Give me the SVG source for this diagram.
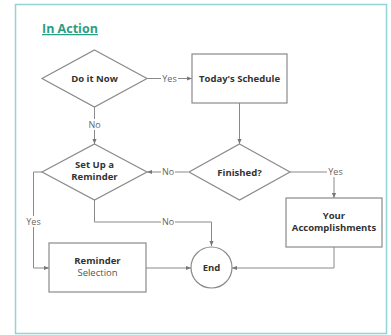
<svg xmlns="http://www.w3.org/2000/svg" width="391" height="335" viewBox="0 0 391 335">
<defs>
<marker id="ah" viewBox="0 0 6 6" refX="6" refY="3" markerWidth="5" markerHeight="5" orient="auto" markerUnits="userSpaceOnUse">
<path d="M0,0.5 L6,3 L0,5.5 z" fill="#777"/>
</marker>
<style>
.shape{fill:#fff;stroke:#8a8a8a;stroke-width:1.2}
.edge{fill:none;stroke:#8a8a8a;stroke-width:1}
.t{font-family:"Open Sans","Liberation Sans",sans-serif;font-size:9.5px;font-weight:bold;fill:#333;text-anchor:middle}
.n{font-family:"Open Sans","Liberation Sans",sans-serif;font-size:9.5px;fill:#555;text-anchor:middle}
.lbl{font-family:"Open Sans","Liberation Sans",sans-serif;font-size:9px;fill:#666;text-anchor:middle}
.lbg{fill:#fff}
</style>
</defs>
<rect x="0" y="0" width="391" height="335" fill="#fff"/>
<rect x="15.5" y="4.5" width="371" height="329" fill="#fff" stroke="#93d4d8" stroke-width="1.5"/>
<text x="42" y="33" font-family="'Open Sans','Liberation Sans',sans-serif" font-size="12.5" font-weight="bold" fill="#2a9e84" text-decoration="underline">In Action</text>

<g id="connectors">
<path class="edge" d="M147,78.5 H192" marker-end="url(#ah)"/>
<path class="edge" d="M94.5,107 V144" marker-end="url(#ah)"/>
<path class="edge" d="M239.5,103 V144" marker-end="url(#ah)"/>
<path class="edge" d="M188,172 H147" marker-end="url(#ah)"/>
<path class="edge" d="M290,172 H334 V198" marker-end="url(#ah)"/>
<path class="edge" d="M334,247 V268 H232" marker-end="url(#ah)"/>
<path class="edge" d="M94.5,200 V222 H211.5 V246" marker-end="url(#ah)"/>
<path class="edge" d="M42,172 H33.5 V268 H49" marker-end="url(#ah)"/>
<path class="edge" d="M146,268 H191" marker-end="url(#ah)"/>
<rect class="lbg" x="161" y="73" width="17" height="11"/>
<text class="lbl" x="169.5" y="81.5">Yes</text>
<rect class="lbg" x="88" y="119" width="13" height="11"/>
<text class="lbl" x="94.5" y="127.5">No</text>
<rect class="lbg" x="161" y="166" width="14" height="11"/>
<text class="lbl" x="168" y="175">No</text>
<rect class="lbg" x="327" y="166" width="17" height="11"/>
<text class="lbl" x="335.5" y="175">Yes</text>
<rect class="lbg" x="161" y="216" width="14" height="11"/>
<text class="lbl" x="168" y="225">No</text>
<rect class="lbg" x="25" y="216" width="17" height="11"/>
<text class="lbl" x="33.5" y="225">Yes</text>
</g>

<g id="do-it-now">
<polygon class="shape" points="94.5,50 147,78.5 94.5,107 42,78.5"/>
<text class="t" x="94.5" y="82">Do it Now</text>
</g>
<g id="todays-schedule">
<rect class="shape" x="192" y="54" width="95" height="49"/>
<text class="t" x="239.5" y="82">Today's Schedule</text>
</g>
<g id="set-up-reminder">
<polygon class="shape" points="94.5,144 147,172 94.5,200 42,172"/>
<text class="t" x="94.5" y="168">Set Up a</text>
<text class="t" x="94.5" y="180">Reminder</text>
</g>
<g id="finished">
<polygon class="shape" points="239.5,144 290,172 239.5,200 189,172"/>
<text class="t" x="239.5" y="175.5">Finished?</text>
</g>
<g id="your-accomplishments">
<rect class="shape" x="286" y="198" width="96" height="49"/>
<text class="t" x="334" y="219">Your</text>
<text class="t" x="334" y="231">Accomplishments</text>
</g>
<g id="reminder-selection">
<rect class="shape" x="49" y="243" width="97" height="49"/>
<text class="t" x="97.5" y="264">Reminder</text>
<text class="n" x="97.5" y="276">Selection</text>
</g>
<g id="end">
<circle class="shape" cx="211.5" cy="267.5" r="20.5"/>
<text class="t" x="211.5" y="271">End</text>
</g>
</svg>
